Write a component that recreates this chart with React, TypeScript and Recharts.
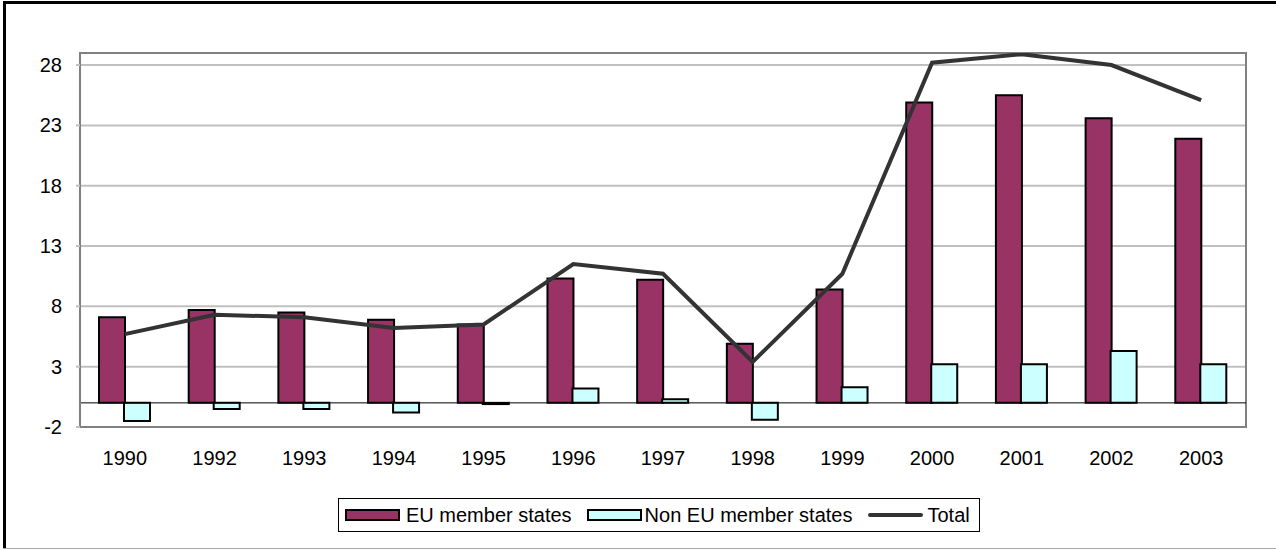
import React from 'react';
import {
  ComposedChart,
  Bar,
  Line,
  XAxis,
  YAxis,
  CartesianGrid,
  Legend,
  ReferenceLine,
  ReferenceArea,
} from 'recharts';

const years = ['1990', '1992', '1993', '1994', '1995', '1996', '1997', '1998', '1999', '2000', '2001', '2002', '2003'];
const euValues = [7.1, 7.7, 7.5, 6.9, 6.5, 10.3, 10.2, 4.9, 9.4, 24.9, 25.5, 23.6, 21.9];
const nonEuValues = [-1.5, -0.5, -0.5, -0.8, -0.1, 1.2, 0.3, -1.4, 1.3, 3.2, 3.2, 4.3, 3.2];
const totalValues = [5.7, 7.3, 7.1, 6.2, 6.5, 11.5, 10.7, 3.4, 10.7, 28.2, 28.9, 28.0, 25.1];
const yTicks = [-2, 3, 8, 13, 18, 23, 28];
const seriesNames = ['EU member states', 'Non EU member states', 'Total'];

const EU_COLOR = '#993366';
const NON_EU_COLOR = '#CCFFFF';
const TOTAL_COLOR = '#333333';
const FONT = '"Liberation Sans", Arial, sans-serif';

const data = years.map((year, i) => ({
  year,
  eu: euValues[i],
  nonEu: nonEuValues[i],
  total: totalValues[i],
}));

const LegendBox = () => (
  <div
    style={{
      boxSizing: 'border-box',
      width: 642,
      height: 34,
      border: '1px solid #000',
      background: '#fff',
      display: 'flex',
      alignItems: 'center',
      paddingLeft: 6,
      fontFamily: FONT,
      fontSize: 20,
      color: '#000',
      whiteSpace: 'nowrap',
    }}
  >
    <span style={{ boxSizing: 'border-box', width: 55, height: 12, background: EU_COLOR, border: '2px solid #000' }} />
    <span style={{ marginLeft: 6 }}>{seriesNames[0]}</span>
    <span style={{ boxSizing: 'border-box', marginLeft: 15, width: 55, height: 12, background: NON_EU_COLOR, border: '2px solid #000' }} />
    <span style={{ marginLeft: 3 }}>{seriesNames[1]}</span>
    <span style={{ marginLeft: 16, width: 55, height: 4, background: TOTAL_COLOR, borderRadius: 2 }} />
    <span style={{ marginLeft: 4 }}>{seriesNames[2]}</span>
  </div>
);

export default function App() {
  return (
    <div style={{ position: 'absolute', left: 0, top: 0, width: 1276, height: 550, background: '#fff', fontFamily: FONT }}>
      <div style={{ position: 'absolute', left: 3, top: 1, width: 1273, height: 3, background: '#000' }} />
      <div style={{ position: 'absolute', left: 3, top: 1, width: 3, height: 548, background: '#000' }} />
      <div style={{ position: 'absolute', left: 3, top: 548, width: 1273, height: 1, background: '#aaa' }} />
      <ComposedChart
        width={1276}
        height={550}
        data={data}
        margin={{ top: 53, right: 30, bottom: 93, left: 0 }}
        barGap={-1}
        barSize={26}
        style={{ position: 'absolute', left: 0, top: 0 }}
      >
        <CartesianGrid vertical={false} stroke="#c0c0c0" strokeWidth={2} />
        <XAxis
          dataKey="year"
          height={30}
          tickLine={false}
          axisLine={{ stroke: '#808080', strokeWidth: 2 }}
          tickSize={6}
          tickMargin={18}
          tick={{ fill: '#000', fontSize: 20, fontFamily: FONT }}
          interval={0}
        />
        <YAxis
          width={80}
          domain={[-2, 29]}
          ticks={yTicks}
          allowDataOverflow
          tickSize={4}
          tickMargin={14}
          tickLine={{ stroke: '#c0c0c0', strokeWidth: 2 }}
          axisLine={{ stroke: '#808080', strokeWidth: 2 }}
          tick={{ fill: '#000', fontSize: 20, fontFamily: FONT }}
        />
        <ReferenceArea y1={-2} y2={29} fill="none" stroke="#808080" strokeWidth={2} ifOverflow="visible" />
        <Bar dataKey="eu" name={seriesNames[0]} fill={EU_COLOR} stroke="#000" strokeWidth={2} isAnimationActive={false} />
        <Bar dataKey="nonEu" name={seriesNames[1]} fill={NON_EU_COLOR} stroke="#000" strokeWidth={2} isAnimationActive={false} />
        <ReferenceLine y={0} stroke="#000" strokeWidth={1} />
        <Line
          dataKey="total"
          name={seriesNames[2]}
          type="linear"
          stroke={TOTAL_COLOR}
          strokeWidth={4}
          dot={false}
          activeDot={false}
          isAnimationActive={false}
        />
        <Legend
          layout="horizontal"
          verticalAlign="middle"
          align="center"
          wrapperStyle={{ left: 338, top: 498, width: 642, height: 34 }}
          content={() => <LegendBox />}
        />
      </ComposedChart>
    </div>
  );
}
